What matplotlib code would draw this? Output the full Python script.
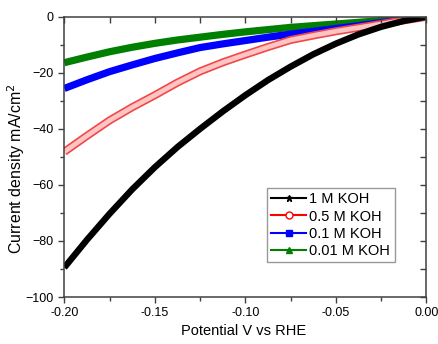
import numpy as np
import matplotlib
matplotlib.use("Agg")
import matplotlib.pyplot as plt
import matplotlib.patheffects as pe
from matplotlib.ticker import MultipleLocator

plt.rcParams['font.family'] = ['Liberation Sans', 'DejaVu Sans']

# potential (V vs RHE) and current density (mA/cm2)
potential = [-0.2000, -0.1875, -0.1750, -0.1625, -0.1500, -0.1375, -0.1250,
             -0.1125, -0.1000, -0.0875, -0.0750, -0.0625, -0.0500, -0.0375,
             -0.0250, -0.0125, 0.0000]
j_1M = [-89.5, -79.6, -70.3, -61.6, -53.7, -46.5, -40.0, -33.8, -28.0,
        -22.6, -17.8, -13.4, -9.6, -6.3, -3.6, -1.5, 0.0]
j_05M = [-48.2, -42.5, -37.0, -32.3, -28.0, -23.5, -19.5, -16.3, -13.5,
         -10.8, -8.3, -6.7, -5.2, -3.9, -2.6, -1.3, 0.0]
j_01M = [-25.6, -22.5, -19.6, -17.2, -14.9, -12.9, -11.0, -9.7, -8.5,
         -7.3, -6.2, -5.2, -4.2, -3.2, -2.1, -1.1, 0.0]
j_001M = [-16.4, -14.4, -12.5, -10.9, -9.5, -8.3, -7.3, -6.3, -5.4,
          -4.6, -3.8, -3.2, -2.6, -2.0, -1.4, -0.7, 0.0]

labels = ['1 M KOH', '0.5 M KOH', '0.1 M KOH', '0.01 M KOH']

fig = plt.figure(figsize=(4.38, 3.44), dpi=100)
ax = fig.add_axes([0.1468, 0.1366, 0.8269, 0.8148])

ax.plot(potential, j_001M, color='#007f00', lw=5.2, solid_capstyle='butt')
ax.plot(potential, j_01M, color='#0000ff', lw=5.2, solid_capstyle='butt')
ax.plot(potential, j_05M, color='#ffc4c4', lw=3.4, solid_capstyle='butt',
        path_effects=[pe.Stroke(linewidth=5.8, foreground='#f04848'), pe.Normal()])
ax.plot(potential, j_1M, color='black', lw=4.6, solid_capstyle='butt')

# legend proxies (line + marker)
h1, = ax.plot([], [], color='black', lw=1.5, marker='*', ms=5)
h2, = ax.plot([], [], color='red', lw=1.5, marker='o', ms=5, mfc='white')
h3, = ax.plot([], [], color='blue', lw=1.5, marker='s', ms=4.5)
h4, = ax.plot([], [], color='green', lw=1.5, marker='^', ms=5)
leg = ax.legend([h1, h2, h3, h4], labels, loc='upper left',
                bbox_to_anchor=(0.56, 0.389), fontsize=10.5, frameon=True,
                fancybox=False, edgecolor='#808080', handlelength=2.4,
                handletextpad=0.2, labelspacing=0.22, borderpad=0.3,
                borderaxespad=0)
leg.get_frame().set_linewidth(1.0)

ax.set_xlim(-0.2, 0.0)
ax.set_ylim(-100, 0)
ax.xaxis.set_major_locator(MultipleLocator(0.05))
ax.xaxis.set_minor_locator(MultipleLocator(0.025))
ax.yaxis.set_major_locator(MultipleLocator(20))
ax.yaxis.set_minor_locator(MultipleLocator(10))
ax.xaxis.set_major_formatter(plt.FormatStrFormatter('%.2f'))

for s in ax.spines.values():
    s.set_color('#404040')
    s.set_linewidth(1.1)

ax.tick_params(which='both', direction='out', color='#404040', width=1,
               labelsize=9, top=False, right=False)
ax.tick_params(which='major', length=4)
ax.tick_params(which='minor', length=3)

# inward ticks on top and right
axt = ax.twiny()
axt.set_xlim(ax.get_xlim())
axt.xaxis.set_major_locator(MultipleLocator(0.025))
axt.tick_params(direction='in', length=4, width=1, color='#404040', labeltop=False)
axr = ax.twinx()
axr.set_ylim(ax.get_ylim())
axr.yaxis.set_major_locator(MultipleLocator(10))
axr.tick_params(direction='in', length=4, width=1, color='#404040', labelright=False)
for a in (axt, axr):
    for s in a.spines.values():
        s.set_visible(False)

ax.set_xlabel('Potential V vs RHE', fontsize=10.5)
ax.xaxis.set_label_coords(0.494, -0.096)
ax.set_ylabel('Current density mA/cm$^2$', fontsize=11.5)
ax.yaxis.set_label_coords(-0.102, 0.457)

fig.savefig('out.png', dpi=100)
